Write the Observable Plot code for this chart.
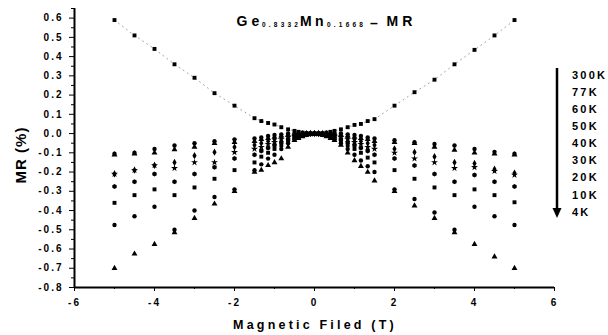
<!DOCTYPE html>
<html>
<head>
<meta charset="utf-8">
<script src="https://cdn.jsdelivr.net/npm/d3@7"></script>
<script src="https://cdn.jsdelivr.net/npm/@observablehq/plot@0.6"></script>
<style>
  html, body { margin: 0; padding: 0; background: #fff; }
  svg text { font-family: "Liberation Sans", Arial, sans-serif; font-weight: bold; }
  svg g[aria-label="y-axis tick label"] text, svg g[aria-label="x-axis tick label"] text { letter-spacing: 2px; }
</style>
</head>
<body>
<div id="chart"></div>
<script>
// Magnetic field values (T)
const fields = [-5,-4.5,-4,-3.5,-3,-2.5,-2,-1.5,-1.33,-1.16,-1,-0.83,-0.66,-0.5,-0.4,-0.3,-0.2,-0.1,0,
                0.1,0.2,0.3,0.4,0.5,0.66,0.83,1,1.16,1.33,1.5,2,2.5,3,3.5,4,4.5,5];

// MR (%) per temperature
const mr300K = [0.59,0.51,0.44,0.36,0.29,0.21,0.145,0.08,0.065,0.055,0.047,0.033,0.022,0.014,0.009,0.005,0.002,0.001,0,
                0.001,0.002,0.005,0.009,0.014,0.022,0.033,0.045,0.05,0.065,0.075,0.145,0.215,0.28,0.36,0.435,0.51,0.59];
const mr77K  = [-0.105,-0.10,-0.08,-0.062,-0.05,-0.04,-0.03,-0.026,-0.02,-0.012,-0.007,-0.004,0,0,0,0,0,0,0,
                0,0,0,0,0,0,-0.004,-0.007,-0.012,-0.02,-0.026,-0.035,-0.045,-0.054,-0.062,-0.08,-0.095,-0.105];
const mr60K  = [-0.11,-0.105,-0.10,-0.083,-0.07,-0.05,-0.045,-0.04,-0.03,-0.025,-0.018,-0.012,-0.006,-0.003,-0.002,-0.001,0,0,0,
                0,0,-0.001,-0.002,-0.003,-0.006,-0.012,-0.018,-0.025,-0.03,-0.04,-0.045,-0.05,-0.07,-0.085,-0.10,-0.105,-0.11];
const mr50K  = [-0.21,-0.19,-0.165,-0.15,-0.115,-0.097,-0.07,-0.06,-0.05,-0.04,-0.03,-0.02,-0.012,-0.007,-0.004,-0.002,-0.001,0,0,
                0,-0.001,-0.002,-0.004,-0.007,-0.012,-0.02,-0.03,-0.04,-0.05,-0.06,-0.08,-0.097,-0.12,-0.15,-0.155,-0.185,-0.205];
const mr40K  = [-0.21,-0.19,-0.165,-0.18,-0.15,-0.15,-0.097,-0.08,-0.07,-0.055,-0.045,-0.03,-0.02,-0.012,-0.008,-0.004,-0.002,-0.001,0,
                -0.001,-0.002,-0.004,-0.008,-0.012,-0.02,-0.03,-0.045,-0.055,-0.07,-0.08,-0.10,-0.13,-0.15,-0.18,-0.175,-0.195,-0.215];
const mr30K  = [-0.275,-0.25,-0.21,-0.25,-0.21,-0.175,-0.13,-0.11,-0.09,-0.075,-0.06,-0.045,-0.03,-0.018,-0.012,-0.007,-0.003,-0.001,0,
                -0.001,-0.003,-0.007,-0.012,-0.018,-0.03,-0.045,-0.06,-0.075,-0.09,-0.11,-0.13,-0.166,-0.21,-0.25,-0.215,-0.25,-0.275];
const mr20K  = [-0.36,-0.32,-0.29,-0.32,-0.28,-0.235,-0.19,-0.15,-0.12,-0.10,-0.08,-0.06,-0.04,-0.024,-0.016,-0.009,-0.004,-0.001,0,
                -0.001,-0.004,-0.009,-0.016,-0.024,-0.04,-0.06,-0.08,-0.10,-0.125,-0.15,-0.19,-0.235,-0.28,-0.32,-0.29,-0.32,-0.357];
const mr10K  = [-0.475,-0.43,-0.38,-0.50,-0.40,-0.33,-0.29,-0.19,-0.16,-0.13,-0.11,-0.08,-0.05,-0.03,-0.02,-0.012,-0.006,-0.002,0,
                -0.002,-0.006,-0.012,-0.02,-0.03,-0.05,-0.08,-0.11,-0.14,-0.17,-0.20,-0.29,-0.34,-0.41,-0.50,-0.38,-0.43,-0.475];
const mr4K   = [-0.70,-0.625,-0.575,-0.515,-0.44,-0.365,-0.30,-0.20,-0.19,-0.165,-0.15,-0.13,-0.07,-0.035,-0.025,-0.015,-0.008,-0.003,0,
                -0.003,-0.008,-0.015,-0.025,-0.035,-0.06,-0.10,-0.14,-0.17,-0.20,-0.245,-0.30,-0.375,-0.44,-0.515,-0.575,-0.64,-0.70];

const temps = ["300K","77K","60K","50K","40K","30K","20K","10K","4K"];
const seriesValues = [mr300K, mr77K, mr60K, mr50K, mr40K, mr30K, mr20K, mr10K, mr4K];

const xTicks = [-6,-4,-2,0,2,4,6];
const xMinor = [-5,-3,-1,1,3,5];
const yTicks = [-0.8,-0.7,-0.6,-0.5,-0.4,-0.3,-0.2,-0.1,0,0.1,0.2,0.3,0.4,0.5,0.6];
const yMinor = [-0.75,-0.65,-0.55,-0.45,-0.35,-0.25,-0.15,-0.05,0.05,0.15,0.25,0.35,0.45,0.55,0.65];

const data = temps.flatMap((t, i) => fields.map((B, j) => ({T: t, B, MR: seriesValues[i][j]})));
const line300 = fields.map((B, j) => ({B, MR: mr300K[j]}));

const symbols = ["square","circle","triangle","diamond","star","hexagon","square","circle","triangle"];

const svg = Plot.plot({
  width: 608,
  height: 335,
  marginLeft: 74,
  marginRight: 54,
  marginTop: 8,
  marginBottom: 48,
  style: {background: "white", color: "black", fontSize: "10px"},
  x: {domain: [-6, 6]},
  y: {domain: [-0.8, 0.65]},
  symbol: {domain: temps, range: symbols},
  marks: [
    Plot.axisY({ticks: yTicks, tickSize: 5, tickPadding: 6, tickFormat: d => d.toFixed(1), label: null, fontSize: 10}),
    Plot.axisY({ticks: yMinor, tickSize: 3, tickFormat: () => "", label: null}),
    Plot.axisX({ticks: xTicks, tickSize: 4, tickPadding: 7, tickFormat: d => String(d), label: null, fontSize: 10}),
    Plot.axisX({ticks: xMinor, tickSize: 2, tickFormat: () => "", label: null}),
    Plot.ruleX([-6], {strokeWidth: 2}),
    Plot.ruleY([-0.8], {strokeWidth: 2}),
    Plot.line(line300, {x: "B", y: "MR", stroke: "#777", strokeWidth: 0.7, strokeDasharray: "1,4"}),
    Plot.dot(data, {x: "B", y: "MR", symbol: "T", fill: "black", r: 2.2})
  ]
});
document.getElementById("chart").appendChild(svg);

const s = d3.select(svg);
// Title: Ge0.8332Mn0.1668 – MR
const title = s.append("text").attr("y", 25.5).attr("text-anchor", "start")
  .style("font-size", "14px").style("letter-spacing", "4px");
title.append("tspan").attr("x", 236.5).text("Ge");
title.append("tspan").attr("x", 262).attr("dy", 1).style("font-size", "6.5px").style("letter-spacing", "3.2px").text("0.8332");
title.append("tspan").attr("x", 300).attr("dy", -1).style("letter-spacing", "3.3px").text("Mn");
title.append("tspan").attr("x", 327).attr("dy", 1).style("font-size", "6.5px").style("letter-spacing", "3.2px").text("0.1668");
title.append("tspan").attr("x", 370).attr("dy", 1).text("–");
title.append("tspan").attr("x", 386.5).attr("dy", -2).text("MR");

// Axis labels
s.append("text").attr("x", 315).attr("y", 329).attr("text-anchor", "middle")
  .style("font-size", "12.5px").style("letter-spacing", "3.2px").text("Magnetic Filed (T)");
s.append("text").attr("transform", "translate(26,155) rotate(-90)").attr("text-anchor", "middle")
  .style("font-size", "15px").style("letter-spacing", "1px").text("MR (%)");

// Temperature legend with arrow
s.append("line").attr("x1", 557).attr("x2", 557).attr("y1", 68).attr("y2", 210)
  .attr("stroke", "black").attr("stroke-width", 2.5);
s.append("path").attr("d", "M552.5,208 L561.5,208 L557,218 Z").attr("fill", "black");
temps.forEach((t, i) => {
  s.append("text").attr("x", 572).attr("y", 75 + i * 17.1).attr("dy", "0.35em").attr("text-anchor", "start")
    .style("font-size", "11px").style("letter-spacing", "2.2px").text(t);
});
</script>
</body>
</html>
